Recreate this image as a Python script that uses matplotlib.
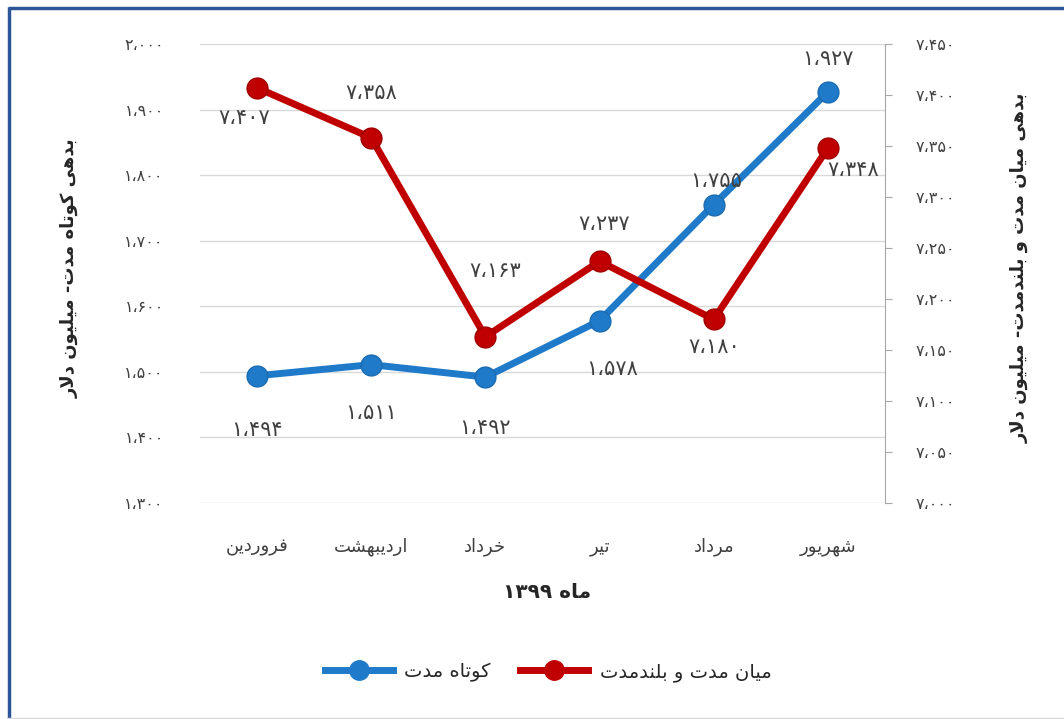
import matplotlib
matplotlib.use("Agg")
import matplotlib.pyplot as plt
from matplotlib.lines import Line2D
import numpy as np

# ---------------- data ----------------
months = ["فروردین", "اردیبهشت", "خرداد", "تیر", "مرداد", "شهریور"]
short_term = [1494, 1511, 1492, 1578, 1755, 1927]
long_term = [7407, 7358, 7163, 7237, 7180, 7348]
left_ticks = [1300, 1400, 1500, 1600, 1700, 1800, 1900, 2000]
right_ticks = [7000, 7050, 7100, 7150, 7200, 7250, 7300, 7350, 7400, 7450]
short_name = "کوتاه مدت"
long_name = "میان مدت و بلندمدت"
xlabel_txt = "ماه ۱۳۹۹"
left_ylabel = "بدهی کوتاه مدت- میلیون دلار"
right_ylabel = "بدهی میان مدت و بلندمدت- میلیون دلار"

# ---------------- simple Persian shaping ----------------
FORMS = {
    'ا': ('\uFE8D', '\uFE8E', None, None),
    'ب': ('\uFE8F', '\uFE90', '\uFE91', '\uFE92'),
    'ت': ('\uFE95', '\uFE96', '\uFE97', '\uFE98'),
    'خ': ('\uFEA5', '\uFEA6', '\uFEA7', '\uFEA8'),
    'د': ('\uFEA9', '\uFEAA', None, None),
    'ر': ('\uFEAD', '\uFEAE', None, None),
    'ز': ('\uFEAF', '\uFEB0', None, None),
    'ش': ('\uFEB5', '\uFEB6', '\uFEB7', '\uFEB8'),
    'ف': ('\uFED1', '\uFED2', '\uFED3', '\uFED4'),
    'ک': ('\uFB8E', '\uFB8F', '\uFB90', '\uFB91'),
    'ل': ('\uFEDD', '\uFEDE', '\uFEDF', '\uFEE0'),
    'م': ('\uFEE1', '\uFEE2', '\uFEE3', '\uFEE4'),
    'ن': ('\uFEE5', '\uFEE6', '\uFEE7', '\uFEE8'),
    'ه': ('\uFEE9', '\uFEEA', '\uFEEB', '\uFEEC'),
    'و': ('\uFEED', '\uFEEE', None, None),
    'ی': ('\uFBFC', '\uFBFD', '\uFBFE', '\uFBFF'),
}


def shape(s):
    out = []
    i = 0
    n = len(s)
    while i < n:
        c = s[i]
        if c not in FORMS:
            out.append(c)
            i += 1
            continue
        prev = s[i - 1] if i > 0 else None
        jp = prev is not None and prev in FORMS and FORMS[prev][2] is not None
        if c == 'ل' and i + 1 < n and s[i + 1] == 'ا':
            out.append('\uFEFC' if jp else '\uFEFB')
            i += 2
            continue
        nxt = s[i + 1] if i + 1 < n else None
        jn = nxt is not None and nxt in FORMS and FORMS[c][2] is not None
        f = FORMS[c]
        if jp and jn:
            out.append(f[3])
        elif jp:
            out.append(f[1])
        elif jn:
            out.append(f[2])
        else:
            out.append(f[0])
        i += 1
    return ''.join(out)


DIGITS = set('۰۱۲۳۴۵۶۷۸۹0123456789،')


def fa(s):
    sh = shape(s)
    toks = []
    cur = ''
    cur_d = None
    for ch in sh:
        d = ch in DIGITS
        if cur_d is None or d == cur_d:
            cur += ch
        else:
            toks.append((cur, cur_d))
            cur = ch
        cur_d = d
    if cur:
        toks.append((cur, cur_d))
    res = ''
    for t, d in reversed(toks):
        res += t if d else t[::-1]
    return res


def fa_num(v):
    s = f"{int(v):,}".replace(',', '،')
    return s.translate(str.maketrans('0123456789', '۰۱۲۳۴۵۶۷۸۹'))


# ---------------- plot ----------------
plt.rcParams['font.family'] = ['DejaVu Sans']
BLUE = '#1F7BC9'
RED = '#C00000'
TXT = '#404040'

fig = plt.figure(figsize=(10.64, 7.19), dpi=100)
ax = fig.add_axes([200 / 1064, 1 - 503 / 719, 685 / 1064, 459 / 719])
ax2 = ax.twinx()

x = np.arange(len(months))
ax.plot(x, short_term, color=BLUE, lw=5, marker='o', ms=15,
        mfc=BLUE, mec='#1A6BB0', mew=1, zorder=5, solid_capstyle='round')
ax2.plot(x, long_term, color=RED, lw=5, marker='o', ms=15,
         mfc=RED, mec='#A00000', mew=1, zorder=5, solid_capstyle='round')

ax.set_xlim(-0.5, len(months) - 0.5)
ax.set_ylim(left_ticks[0], left_ticks[-1])
ax2.set_ylim(right_ticks[0], right_ticks[-1])
ax.set_yticks(left_ticks)
ax.set_yticklabels([fa_num(v) for v in left_ticks], fontsize=11.5, color=TXT)
ax2.set_yticks(right_ticks)
ax2.set_yticklabels([fa_num(v) for v in right_ticks], fontsize=11.5, color=TXT)
ax.set_xticks(x)
ax.set_xticklabels([fa(m) for m in months], fontsize=13, color=TXT)

ax.grid(axis='y', color='#D9D9D9', lw=1)
ax.set_axisbelow(True)
for sp in ['top', 'left', 'bottom', 'right']:
    ax.spines[sp].set_visible(False)
for sp in ['top', 'left', 'bottom']:
    ax2.spines[sp].set_visible(False)
ax2.spines['right'].set_color('#A6A6A6')
ax.tick_params(axis='y', length=0, pad=26)
ax.tick_params(axis='x', length=0, pad=25)
ax2.tick_params(axis='y', length=5, color='#A6A6A6', pad=17)

# data labels
blue_off = [(0, -39), (0, -35), (0, -37), (9, -35), (1.5, 17), (0, 24)]
red_off = [(-9, -22), (0, 32), (7, 47), (3, 27), (0, -20), (18, -16)]
for xi, v, o in zip(x, short_term, blue_off):
    ax.annotate(fa_num(v), (xi, v), xytext=o, textcoords='offset points',
                ha='center', va='center', fontsize=15, color=TXT, zorder=6)
for xi, v, o in zip(x, long_term, red_off):
    ax2.annotate(fa_num(v), (xi, v), xytext=o, textcoords='offset points',
                 ha='center', va='center', fontsize=15, color=TXT, zorder=6)

# axis titles
fig.text(547 / 1064, 1 - 593 / 719, fa(xlabel_txt), ha='center', va='center',
         fontsize=14.5, fontweight='bold', color='#262626')
fig.text(70 / 1064, 1 - 268 / 719, fa(left_ylabel), rotation=90, ha='center',
         va='center', fontsize=13, fontweight='bold', color='#262626')
fig.text(1020 / 1064, 1 - 268 / 719, fa(right_ylabel), rotation=90, ha='center',
         va='center', fontsize=13, fontweight='bold', color='#262626')

# legend
handles = [Line2D([], [], color=BLUE, lw=5, marker='o', ms=14, mfc=BLUE, mec=BLUE),
           Line2D([], [], color=RED, lw=5, marker='o', ms=14, mfc=RED, mec=RED)]
fig.legend(handles, [fa(short_name), fa(long_name)], loc='center',
           bbox_to_anchor=(548 / 1064, 1 - 672 / 719), ncol=2, frameon=False,
           fontsize=14, handlelength=3.5, columnspacing=1.5, handletextpad=0.6,
           labelcolor='#262626')

# frame
fig.add_artist(Line2D([8.5 / 1064, 8.5 / 1064], [0, 1 - 6.5 / 719],
                      transform=fig.transFigure, color='#2E5597', lw=2.5,
                      solid_capstyle='butt'))
fig.add_artist(Line2D([7.5 / 1064, 1], [1 - 7.5 / 719, 1 - 7.5 / 719],
                      transform=fig.transFigure, color='#2E5597', lw=2.5,
                      solid_capstyle='butt'))
fig.add_artist(Line2D([8 / 1064, 1], [1.5 / 719, 1.5 / 719],
                      transform=fig.transFigure, color='#D9D9D9', lw=1))

fig.savefig('out.png', dpi=100)
